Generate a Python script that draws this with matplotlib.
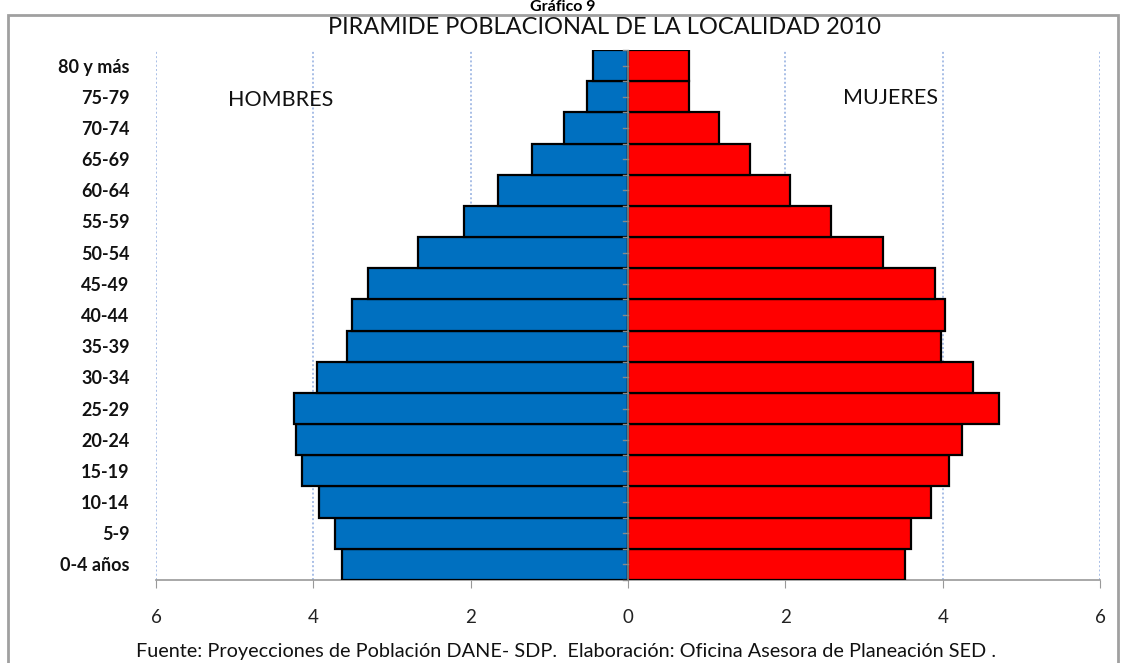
import matplotlib.pyplot as plt
import numpy as np
from matplotlib.patches import Rectangle

# age groups from bottom to top
grupos = ["0-4 años", "5-9", "10-14", "15-19", "20-24", "25-29", "30-34", "35-39",
          "40-44", "45-49", "50-54", "55-59", "60-64", "65-69", "70-74", "75-79", "80 y más"]
hombres = [3.63, 3.72, 3.93, 4.14, 4.22, 4.24, 3.96, 3.57,
           3.51, 3.30, 2.67, 2.08, 1.65, 1.22, 0.81, 0.52, 0.44]
mujeres = [3.52, 3.60, 3.85, 4.08, 4.24, 4.71, 4.38, 3.98,
           4.03, 3.90, 3.24, 2.58, 2.06, 1.55, 1.16, 0.77, 0.78]
xticks = [-6, -4, -2, 0, 2, 4, 6]

plt.rcParams["font.family"] = ["Lato", "DejaVu Sans"]

fig = plt.figure(figsize=(11.21, 6.63), dpi=100)
ax = fig.add_axes([0.1392, 0.1252, 0.8421, 0.7994])

y = np.arange(len(grupos))
ax.barh(y, -np.array(hombres), height=1.0, color="#0070C0", edgecolor="black", linewidth=1.6, zorder=3)
ax.barh(y, mujeres, height=1.0, color="#FF0000", edgecolor="black", linewidth=1.6, zorder=3)

ax.set_xlim(-6, 6)
ax.set_ylim(-0.5, len(grupos) - 0.5)

# dotted vertical gridlines
for v in xticks:
    if v != 0:
        ax.axvline(v, color="#A8BEE6", linestyle=(0, (1, 1.2)), linewidth=1.4, zorder=1)

# center axis with small ticks
ax.axvline(0, color="#888888", linewidth=1.2, zorder=4)
for k in np.arange(-0.5, len(grupos), 0.5):
    ax.plot([-0.07, 0], [k, k], color="#888888", linewidth=1.0, zorder=4, clip_on=False)

for s in ["top", "right", "left"]:
    ax.spines[s].set_visible(False)
ax.spines["bottom"].set_color("#999999")
ax.spines["bottom"].set_linewidth(1.2)

ax.set_xticks(xticks)
ax.set_xticklabels([str(abs(v)) for v in xticks], fontsize=13.5, color="#222222")
ax.tick_params(axis="x", length=6, color="#999999", pad=15)

ax.set_yticks(y)
ax.set_yticklabels(grupos, fontsize=13, fontweight="bold", color="#111111")
ax.tick_params(axis="y", length=0, pad=19)

ax.text(-5.08, 14.9, "HOMBRES", fontsize=15.5, ha="left", va="center", color="#111111")
ax.text(2.73, 14.96, "MUJERES", fontsize=15.5, ha="left", va="center", color="#111111")

fig.text(0.539, 1 - 28 / 663, "PIRAMIDE POBLACIONAL DE LA LOCALIDAD 2010", fontsize=17,
         ha="center", va="center", color="#111111")
fig.text(0.502, 1 - 7 / 663, "Gráfico 9", fontsize=11.5, fontweight="bold", ha="center", va="center")
fig.text(0.505, 1 - 651 / 663,
         "Fuente: Proyecciones de Población DANE- SDP.  Elaboración: Oficina Asesora de Planeación SED .",
         fontsize=14.3, ha="center", va="center", color="#111111")

# outer frame
fig.patches.append(Rectangle((8 / 1121, -0.05), 1110 / 1121, 1.05 - 15 / 663, transform=fig.transFigure,
                             fill=False, edgecolor="#A0A0A0", linewidth=2))

fig.savefig("out.png", dpi=100)
